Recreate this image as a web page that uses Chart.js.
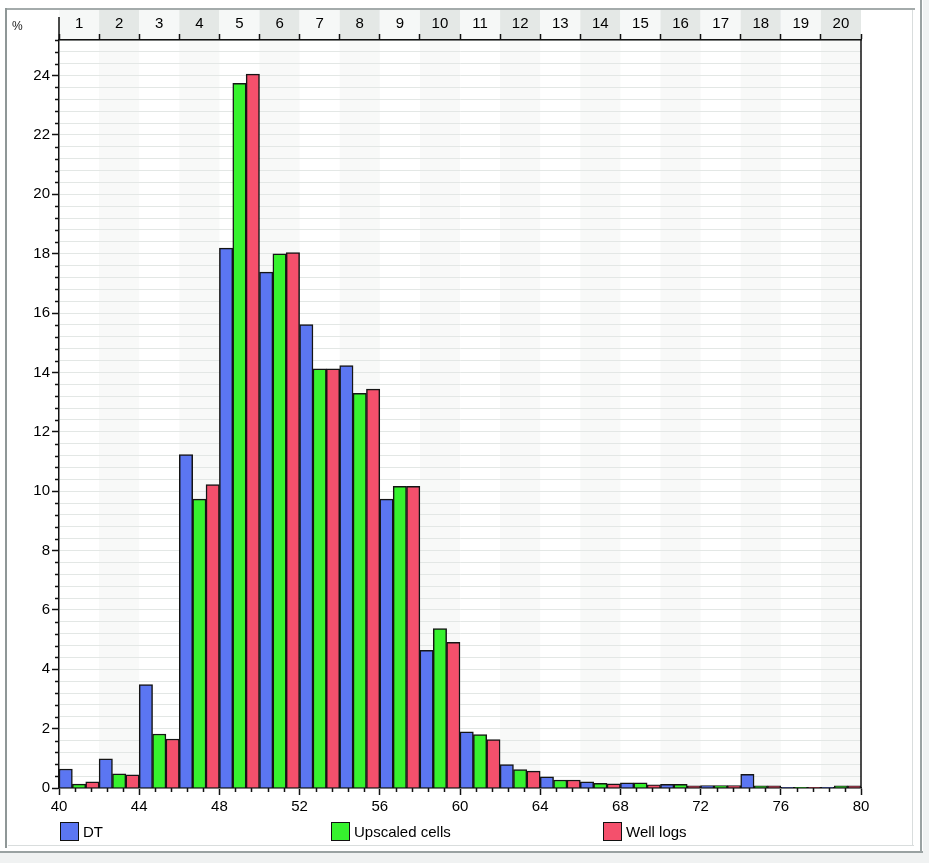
<!DOCTYPE html>
<html lang="en">
<head>
  <meta charset="UTF-8" />
  <title>DT histogram</title>
  <script src="https://cdn.jsdelivr.net/npm/chart.js"></script>
  <style>
    body {
      margin: 0;
      background: #fff;
      font-family: "Liberation Sans", Arial, sans-serif;
    }
    #wrap {
      position: relative;
      width: 929px;
      height: 863px;
      overflow: hidden;
      background: #fff;
    }
    .ln { position: absolute; }
    canvas { position: absolute; left: 0; top: 0; }
    .legend {
      position: absolute;
      top: 821px;
      font-size: 15px;
      color: #000;
      display: flex;
      align-items: center;
      height: 20px;
    }
    .swatch {
      width: 17px;
      height: 17px;
      border: 1.5px solid #111;
      margin-right: 4px;
    }
  </style>
</head>
<body>
<div id="wrap">
  <!-- window frame -->
  <div class="ln" style="left:5px;top:8px;width:910px;height:2px;background:#a4abab"></div>
  <div class="ln" style="left:5px;top:8px;width:2px;height:840px;background:#8f9797"></div>
  <div class="ln" style="left:8px;top:845px;width:906px;height:1px;background:#d9dddd"></div>
  <div class="ln" style="left:912px;top:10px;width:1px;height:836px;background:#d9dddd"></div>
  <div class="ln" style="left:0;top:852px;width:929px;height:11px;background:#f0f2f2"></div>
  <div class="ln" style="left:0;top:851px;width:923px;height:2px;background:#9aa2a2"></div>
  <div class="ln" style="left:923px;top:0;width:6px;height:863px;background:#f0f2f2"></div>
  <div class="ln" style="left:920px;top:0;width:2px;height:853px;background:#9aa2a2"></div>

  <canvas id="histChart" width="929" height="863"></canvas>

  <div class="legend" style="left:60px"><div class="swatch" style="background:#5b76f2"></div>DT</div>
  <div class="legend" style="left:331px"><div class="swatch" style="background:#36f22e"></div>Upscaled cells</div>
  <div class="legend" style="left:603px"><div class="swatch" style="background:#f4506c"></div>Well logs</div>
</div>

<script>
  // bins of width 2 between 40 and 80
  const binStarts = [40, 42, 44, 46, 48, 50, 52, 54, 56, 58, 60, 62, 64, 66, 68, 70, 72, 74, 76, 78];
  const binLabels = ['1', '2', '3', '4', '5', '6', '7', '8', '9', '10',
                     '11', '12', '13', '14', '15', '16', '17', '18', '19', '20'];
  const binWidth = 2;

  // percentages per bin
  const dtValues       = [0.64, 0.98, 3.48, 11.23, 18.19, 17.38, 15.61, 14.23, 9.73, 4.64,
                          1.89, 0.79, 0.38, 0.21, 0.17, 0.12, 0.08, 0.46, 0.02, 0.01];
  const upscaledValues = [0.13, 0.48, 1.82, 9.73, 23.74, 18.0, 14.12, 13.30, 10.16, 5.37,
                          1.80, 0.62, 0.27, 0.16, 0.17, 0.12, 0.08, 0.07, 0.02, 0.07];
  const wellLogValues  = [0.21, 0.44, 1.65, 10.22, 24.05, 18.04, 14.12, 13.44, 10.16, 4.91,
                          1.63, 0.57, 0.27, 0.14, 0.11, 0.07, 0.08, 0.07, 0.02, 0.07];

  const xTickLabels = [40, 44, 48, 52, 56, 60, 64, 68, 72, 76, 80];
  const yTickLabels = [0, 2, 4, 6, 8, 10, 12, 14, 16, 18, 20, 22, 24];
  const yMax = 25.2;
  const yMinorStep = 0.4;
  const xMinorStep = 0.8;

  const seriesNames = ['DT', 'Upscaled cells', 'Well logs'];
  const seriesValues = [dtValues, upscaledValues, wellLogValues];
  const seriesColors = ['#5b76f2', '#36f22e', '#f4506c'];

  Chart.defaults.font.family = '"Liberation Sans", Arial, sans-serif';
  Chart.defaults.font.size = 15;
  Chart.defaults.color = '#000';

  const datasets = seriesValues.map((vals, k) => ({
    label: seriesNames[k],
    backgroundColor: seriesColors[k],
    borderColor: '#151515',
    borderWidth: 1.5,
    borderSkipped: 'bottom',
    grouped: false,
    barPercentage: 1,
    categoryPercentage: 1,
    data: vals.map((v, i) => ({ x: binStarts[i] + binWidth * (k + 0.5) / 3, y: v }))
  }));

  const isMult = (v, m) => Math.abs(v / m - Math.round(v / m)) < 1e-6;

  const decor = {
    id: 'decor',
    beforeDraw(chart) {
      const { ctx, chartArea, scales } = chart;
      const x = scales.x;
      ctx.save();
      binStarts.forEach((s, i) => {
        const l = x.getPixelForValue(s);
        const r = x.getPixelForValue(s + binWidth);
        ctx.fillStyle = i % 2 ? '#e4e8e6' : '#f6f8f7';
        ctx.fillRect(l, 10, r - l, chartArea.top - 10);
        if (i % 2) {
          ctx.fillStyle = '#f8f9f8';
          ctx.fillRect(l, chartArea.top, r - l, chartArea.bottom - chartArea.top);
        }
      });
      ctx.restore();
    },
    afterDraw(chart) {
      const { ctx, chartArea, scales } = chart;
      ctx.save();
      ctx.strokeStyle = '#111';
      ctx.lineWidth = 1.5;
      ctx.beginPath();
      // minor ticks on y
      for (let v = 0; v <= yMax + 1e-6; v += yMinorStep) {
        if (isMult(v, 2)) continue;
        const py = Math.round(scales.y.getPixelForValue(v)) + 0.5;
        ctx.moveTo(chartArea.left - 4, py);
        ctx.lineTo(chartArea.left, py);
      }
      // minor ticks on x
      for (let v = 40; v <= 80 + 1e-6; v += xMinorStep) {
        if (isMult(v - 40, 4)) continue;
        const px = Math.round(scales.x.getPixelForValue(v)) + 0.5;
        ctx.moveTo(px, chartArea.bottom);
        ctx.lineTo(px, chartArea.bottom + 4);
      }
      // left axis reaches into header, right frame line
      ctx.moveTo(chartArea.left, 17);
      ctx.lineTo(chartArea.left, chartArea.top);
      ctx.moveTo(chartArea.right, chartArea.top);
      ctx.lineTo(chartArea.right, chartArea.bottom);
      ctx.stroke();
      // percent unit
      ctx.fillStyle = '#222';
      ctx.font = '12px "Liberation Sans", Arial, sans-serif';
      ctx.textBaseline = 'middle';
      ctx.fillText('%', 12, 27);
      ctx.restore();
    }
  };

  new Chart(document.getElementById('histChart'), {
    type: 'bar',
    data: { datasets },
    plugins: [decor],
    options: {
      responsive: false,
      animation: false,
      layout: { padding: { left: 0, top: 0, right: 68, bottom: 0 } },
      plugins: { legend: { display: false }, tooltip: { enabled: false } },
      scales: {
        x: {
          type: 'linear',
          position: 'bottom',
          offset: false,
          min: 40,
          max: 80,
          afterBuildTicks: s => { s.ticks = xTickLabels.map(v => ({ value: v })); },
          afterFit: s => { s.height = 75; },
          ticks: { autoSkip: false, maxRotation: 0, padding: 3, callback: v => String(v) },
          grid: { offset: false, drawOnChartArea: false, tickLength: 7, tickColor: '#111', tickWidth: 1.5 },
          border: { color: '#111', width: 1.5 }
        },
        x2: {
          type: 'linear',
          position: 'top',
          offset: false,
          min: 40,
          max: 80,
          afterBuildTicks: s => {
            const t = [];
            for (let v = 40; v <= 80; v++) t.push({ value: v });
            s.ticks = t;
          },
          afterFit: s => { s.height = 40; },
          ticks: {
            autoSkip: false,
            maxRotation: 0,
            padding: 1,
            callback: v => (v % 2 === 1 ? binLabels[(v - 41) / 2] : '')
          },
          grid: {
            offset: false,
            drawOnChartArea: false,
            tickLength: 6,
            tickWidth: 1.5,
            tickColor: c => (c.tick && c.tick.value % 2 === 0 ? '#111' : 'rgba(0,0,0,0)')
          },
          border: { color: '#111', width: 1.5 }
        },
        y: {
          min: 0,
          max: yMax,
          afterBuildTicks: s => {
            const t = [];
            for (let i = 0; i * yMinorStep <= yMax + 1e-6; i++) {
              t.push({ value: Math.round(i * yMinorStep * 10) / 10 });
            }
            s.ticks = t;
          },
          afterFit: s => { s.width = 59; },
          ticks: {
            autoSkip: false,
            padding: 2,
            callback: v => (yTickLabels.includes(v) ? String(v) : '')
          },
          grid: {
            color: '#e3e7e5',
            lineWidth: 1,
            tickLength: 7,
            tickWidth: 1.5,
            tickColor: c => (c.tick && yTickLabels.includes(c.tick.value) ? '#111' : 'rgba(0,0,0,0)')
          },
          border: { color: '#111', width: 1.5 }
        }
      }
    }
  });
</script>
</body>
</html>
